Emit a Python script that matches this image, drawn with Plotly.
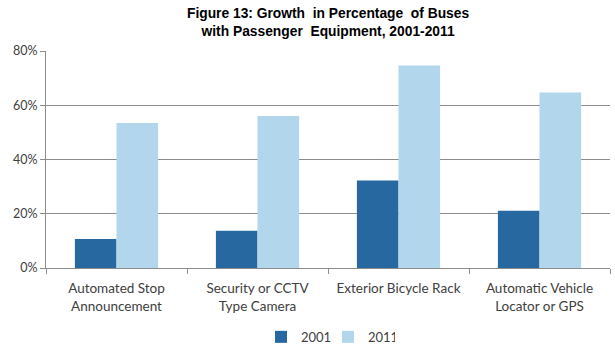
import plotly.graph_objects as go

categories = ["Automated Stop<br>Announcement", "Security or CCTV<br>Type Camera",
              "Exterior Bicycle Rack", "Automatic Vehicle<br>Locator or GPS"]
values_2001 = [10.7, 13.7, 32.3, 21.1]
values_2011 = [53.5, 56.0, 74.7, 64.7]
y_ticks = [0, 20, 40, 60, 80]
y_tick_labels = ["0%", "20%", "40%", "60%", "80%"]
title_text = "<b>Figure 13: Growth  in Percentage  of Buses<br>with Passenger  Equipment, 2001-2011</b>"

fig = go.Figure()
fig.add_trace(go.Bar(name="2001", x=categories, y=values_2001, marker_color="#26689F",
                     marker_line_width=0))
fig.add_trace(go.Bar(name="2011", x=categories, y=values_2011, marker_color="#B2D6EC",
                     marker_line_width=0))

fig.add_annotation(text=title_text, xref="paper", yref="paper", x=0.5, y=1.218,
                   xanchor="center", yanchor="top", showarrow=False,
                   font=dict(family="Liberation Sans, Arial", size=13.8, color="#000000"))

fig.update_layout(
    width=615, height=348,
    margin=dict(l=46, r=5, t=51, b=80, autoexpand=False),
    paper_bgcolor="white", plot_bgcolor="white",
    barmode="group", bargap=0.41, bargroupgap=0,
    font=dict(family="Lato, Open Sans, sans-serif", size=12, color="#404040"),
    showlegend=True,
    legend=dict(orientation="h", x=0.5, xanchor="center", xref="paper",
                y=0.075, yanchor="top", yref="container",
                font=dict(size=13, color="#404040"), itemwidth=30, traceorder="normal",
                entrywidth=22, entrywidthmode="pixels", tracegroupgap=0),
)
fig.update_yaxes(range=[0, 80], tickvals=y_ticks, ticktext=y_tick_labels,
                 showgrid=True, gridcolor="#8C8C8C", gridwidth=1,
                 showline=True, linecolor="#8C8C8C", linewidth=1,
                 ticks="outside", ticklen=5, tickcolor="#8C8C8C",
                 zeroline=False, automargin=False,
                 tickfont=dict(size=12.5, color="#404040"))
fig.update_xaxes(showline=True, linecolor="#8C8C8C", linewidth=1,
                 ticks="outside", ticklen=5, tickcolor="#8C8C8C", tickson="boundaries",
                 showgrid=False, automargin=False, ticklabelstandoff=8,
                 tickfont=dict(size=13.5, color="#404040"))

fig.write_html("out.html")
